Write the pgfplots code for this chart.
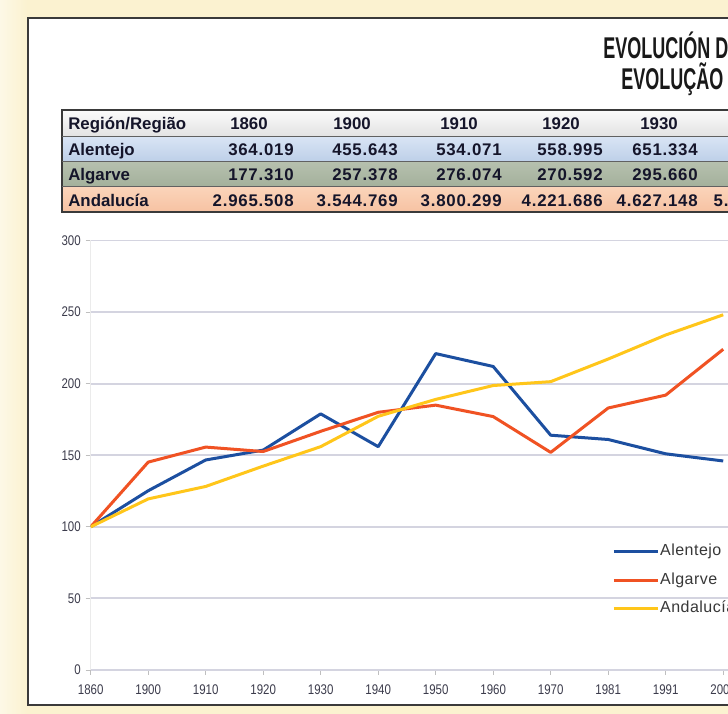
\documentclass[border=0pt]{standalone}
\usepackage{pgfplots}
\pgfplotsset{compat=1.18}
\usepackage{fontspec}
\setmainfont{Liberation Sans}
\newfontfamily\titlefont[FakeStretch=0.6]{Liberation Sans}
\newfontfamily\tabfont{Liberation Sans}
\newfontfamily\numfont[LetterSpace=4.5]{Liberation Sans}
\newfontfamily\tickfont[FakeStretch=0.82]{Liberation Sans}
\newfontfamily\legfont[LetterSpace=3]{Liberation Sans}
\definecolor{cream}{HTML}{FBF2D0}
\definecolor{creamlight}{HTML}{FDF8E6}
\definecolor{panelborder}{HTML}{3A3A3A}
\definecolor{hdrtop}{HTML}{FBFBFB}
\definecolor{hdrbot}{HTML}{E2E2E2}
\definecolor{alenttop}{HTML}{D8E4F4}
\definecolor{alentbot}{HTML}{BDCFE8}
\definecolor{algtop}{HTML}{B6C0AE}
\definecolor{algbot}{HTML}{A3B09B}
\definecolor{andtop}{HTML}{FBD4BA}
\definecolor{andbot}{HTML}{F6C2A2}
\definecolor{tabtext}{HTML}{15152A}
\definecolor{gridc}{HTML}{D4D4E0}
\definecolor{tickc}{HTML}{3C3C4C}
\definecolor{cblue}{HTML}{1C4FA0}
\definecolor{cred}{HTML}{F05223}
\definecolor{cyellow}{HTML}{FFC61A}
\begin{document}
\begin{tikzpicture}[
  tab/.style={inner sep=0pt, text=tabtext, font=\tabfont\bfseries\fontsize{10.1pt}{12pt}\selectfont},
  num/.style={inner sep=0pt, text=tabtext, font=\numfont\bfseries\fontsize{10.1pt}{12pt}\selectfont, anchor=base east}]
\useasboundingbox (0pt,0pt) rectangle (436.8pt,428.4pt);
\clip (0pt,0pt) rectangle (436.8pt,428.4pt);
\begin{scope}[x=0.6pt,y=0.6pt]
\fill[cream] (0,0) rectangle (728,714);
\shade[left color=creamlight, right color=cream] (0,0) rectangle (27,714);
% panel
\fill[white] (28,{714-705}) rectangle (760,{714-18});
\draw[panelborder, line width=1.3pt] (760,{714-705}) -- (28,{714-705}) -- (28,{714-18}) -- (760,{714-18});
% title
\node[anchor=base west, inner sep=0pt, font=\titlefont\bfseries\fontsize{18pt}{20pt}\selectfont, text=black!90] at (603,{714-59}) {EVOLUCIÓN DE LA POBLACIÓN};
\node[anchor=base west, inner sep=0pt, font=\titlefont\bfseries\fontsize{18pt}{20pt}\selectfont, text=black!90] at (621,{714-90}) {EVOLUÇÃO DA POPULAÇÃO};
% table rows
\shade[top color=hdrtop, bottom color=hdrbot] (62,{714-137}) rectangle (760,{714-110});
\shade[top color=alenttop, bottom color=alentbot] (62,{714-162}) rectangle (760,{714-137});
\shade[top color=algtop, bottom color=algbot] (62,{714-187}) rectangle (760,{714-162});
\shade[top color=andtop, bottom color=andbot] (62,{714-212}) rectangle (760,{714-187});
\draw[panelborder, line width=1.1pt] (760,{714-110}) -- (62,{714-110}) -- (62,{714-212}) -- (760,{714-212});
\foreach \yy in {137,162,187} \draw[panelborder!80, line width=0.6pt] (62,{714-\yy}) -- (760,{714-\yy});
\node[tab, anchor=base west] at (68,{714-130}) {Región/Região};
\node[tab, anchor=base west] at (68,{714-155.7}) {Alentejo};
\node[tab, anchor=base west] at (68,{714-181}) {Algarve};
\node[tab, anchor=base west] at (68,{714-206.7}) {Andalucía};
\foreach \cx/\yr in {249/1860,352/1900,459/1910,561/1920,659/1930}
  \node[tab, anchor=base] at (\cx,{714-130}) {\yr};
\foreach \rx/\va/\vb/\vc in {294/364.019/177.310/2.965.508,398/455.643/257.378/3.544.769,502/534.071/276.074/3.800.299,603/558.995/270.592/4.221.686,698/651.334/295.660/4.627.148}{
  \node[num] at (\rx,{714-155.7}) {\va};
  \node[num] at (\rx,{714-181}) {\vb};
  \node[num] at (\rx,{714-206.7}) {\vc};
}
\node[num] at (795,{714-206.7}) {5.255.120};
\end{scope}
% chart
\begin{axis}[
  at={(54.42pt,26.4pt)}, anchor=south west, scale only axis,
  width=448.5pt, height=257.7pt,
  xmin=0, xmax=13, ymin=0, ymax=300,
  xtick={0,...,11},
  xticklabels={1860,1900,1910,1920,1930,1940,1950,1960,1970,1981,1991,2001},
  ytick={0,50,...,300},
  ymajorgrids, major grid style={draw=gridc, line width=1.1pt},
  separate axis lines,
  x axis line style={draw=gridc, line width=1.1pt},
  y axis line style={draw=black!8, line width=0.5pt},
  tick pos=left, tick align=outside, major tick length=3pt,
  tick style={draw=gray!50, line width=0.5pt},
  /pgf/number format/assume math mode=true,
  tick label style={font=\tickfont\fontsize{8.4pt}{9pt}\selectfont, text=tickc},
  yticklabel style={inner sep=0pt, xshift=-2.8pt},
  xticklabel style={inner sep=0pt, yshift=-5.8pt},
  legend style={at={(axis description cs:0.6974,0.2095)}, anchor=west, draw=none, fill=none,
    inner sep=0pt, row sep=7.1pt, font=\legfont\fontsize{9.6pt}{10pt}\selectfont, text=black!78,
    nodes={inner sep=0.5pt, text height=7pt, text depth=2pt, anchor=west}},
  legend cell align=left,
  /tikz/every even column/.append style={column sep=1.9pt},
  legend image code/.code={\draw[#1] (0pt,0pt) -- (26.4pt,0pt);},
  every axis plot/.append style={line width=1.8pt, line join=round, mark=none},
]
\addplot[cblue] coordinates {(0,100) (1,125.2) (2,146.7) (3,153.6) (4,178.9) (5,156) (6,221) (7,212) (8,164) (9,161) (10,151) (11,146)};
\addlegendentry{Alentejo}
\addplot[cred] coordinates {(0,100) (1,145.2) (2,155.7) (3,152.6) (4,166.7) (5,180) (6,185) (7,177) (8,152) (9,183) (10,192) (11,224)};
\addlegendentry{Algarve}
\addplot[cyellow] coordinates {(0,100) (1,119.5) (2,128.2) (3,142.4) (4,156.0) (5,177.2) (6,189.0) (7,198.7) (8,201.4) (9,217.2) (10,234.0) (11,248.1)};
\addlegendentry{Andalucía}
\end{axis}
\end{tikzpicture}
\end{document}
